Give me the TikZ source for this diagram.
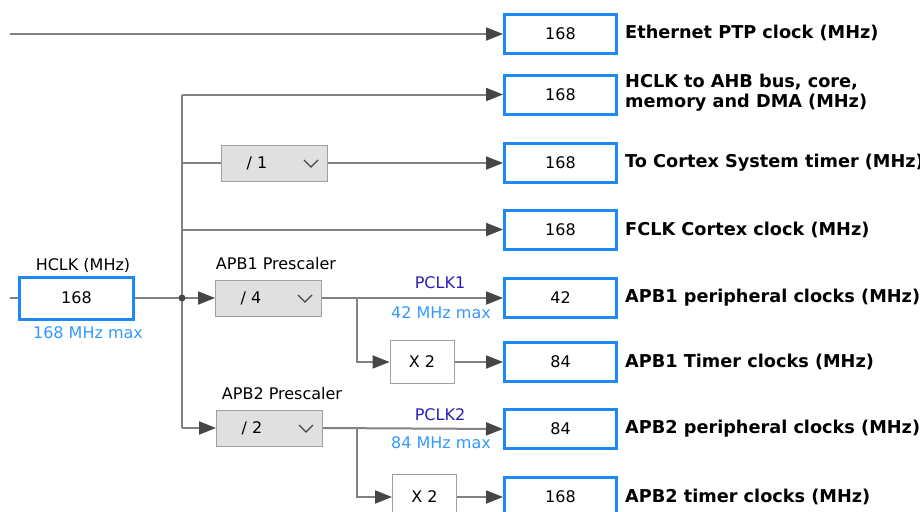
\documentclass[tikz,border=0pt]{standalone}
\usepackage{fontspec}
\setmainfont{DejaVu Sans}
\usetikzlibrary{arrows.meta}
\definecolor{bluebox}{RGB}{30,136,245}
\definecolor{linegrey}{RGB}{130,130,130}
\definecolor{tipgrey}{RGB}{70,70,70}
\definecolor{pfill}{RGB}{224,224,224}
\definecolor{pborder}{RGB}{160,160,160}
\definecolor{pclkcol}{RGB}{40,30,190}
\definecolor{maxcol}{RGB}{51,153,255}
\begin{document}
\begin{tikzpicture}[x=1pt,y=-1pt,
  outbox/.style={draw=bluebox, line width=3pt, fill=white, minimum width=112pt, minimum height=39pt, inner sep=0pt, font=\fontsize{16}{19}\selectfont},
  lbl/.style={anchor=west, inner sep=0pt, align=left, font=\bfseries\fontsize{17.7}{20}\selectfont},
  presc/.style={draw=pborder, line width=1pt, fill=pfill, minimum width=106pt, minimum height=36pt, inner sep=0pt},
  mulbox/.style={draw=pborder, line width=1pt, fill=white, minimum width=64pt, minimum height=43pt, inner sep=0pt, font=\fontsize{16}{19}\selectfont},
  txt/.style={inner sep=0pt, font=\fontsize{16}{19}\selectfont},
  conn/.style={draw=linegrey, line width=2pt},
  arr/.style={conn, -{Triangle[length=17pt,width=13pt,color=tipgrey]}},
  chev/.style={draw=tipgrey, line width=1.2pt},
  pclk/.style={inner sep=0pt, text=pclkcol, font=\fontsize{16}{19}\selectfont},
  maxlbl/.style={inner sep=0pt, text=maxcol, font=\fontsize{16}{19}\selectfont}
]
\useasboundingbox (0,0) rectangle (920,511);

% output boxes
\node[outbox] (box1) at (560.5,34) {168};
\node[outbox] (box2) at (560.5,94.5) {168};
\node[outbox] (box3) at (560.5,163) {168};
\node[outbox] (box4) at (560.5,229.5) {168};
\node[outbox] (box5) at (560.5,298) {42};
\node[outbox] (box6) at (560.5,362) {84};
\node[outbox] (box7) at (560.5,429) {84};
\node[outbox] (box8) at (560.5,497) {168};

\node[lbl] (lbl1) at (625,33) {Ethernet PTP clock (MHz)};
\node[lbl] (lbl2) at (625,93) {HCLK to AHB bus, core,\\memory and DMA (MHz)};
\node[lbl] (lbl3) at (625,163) {To Cortex System timer (MHz)};
\node[lbl] (lbl4) at (625,229.5) {FCLK Cortex clock (MHz)};
\node[lbl] (lbl5) at (625,298) {APB1 peripheral clocks (MHz)};
\node[lbl] (lbl6) at (625,362) {APB1 Timer clocks (MHz)};
\node[lbl] (lbl7) at (625,429) {APB2 peripheral clocks (MHz)};
\node[lbl] (lbl8) at (625,497) {APB2 timer clocks (MHz)};

% HCLK
\node[outbox, minimum width=114pt, minimum height=42pt] (hclk) at (76.5,298) {168};
\node[txt] (hclklbl) at (83,265) {HCLK (MHz)};
\node[maxlbl] (hclkmax) at (88,333) {168 MHz max};

% prescalers
\node[presc] (div1) at (274.5,163) {};
\node[txt] (div1t) at ([xshift=36pt]div1.west) {/ 1};
\draw[chev] ([xshift=-24pt,yshift=3pt]div1.east) -- ++(7,7) -- ++(7,-7);

\node[presc] (apb1) at (268.5,298) {};
\node[txt] (apb1t) at ([xshift=36pt]apb1.west) {/ 4};
\draw[chev] ([xshift=-24pt,yshift=3pt]apb1.east) -- ++(7,7) -- ++(7,-7);
\node[txt] (apb1lbl) at (276,264) {APB1 Prescaler};

\node[presc] (apb2) at (269.5,428) {};
\node[txt] (apb2t) at ([xshift=36pt]apb2.west) {/ 2};
\draw[chev] ([xshift=-24pt,yshift=3pt]apb2.east) -- ++(7,7) -- ++(7,-7);
\node[txt] (apb2lbl) at (282,394) {APB2 Prescaler};

% multipliers
\node[mulbox] (x21) at (422,362) {X 2};
\node[mulbox, minimum height=46pt] (x22) at (424.5,497) {X 2};

% PCLK labels
\node[pclk] (pclk1) at (440,283) {PCLK1};
\node[maxlbl] (max1) at (441,313) {42 MHz max};
\node[pclk] (pclk2) at (440,415) {PCLK2};
\node[maxlbl] (max2) at (441,443) {84 MHz max};

% coordinates
\coordinate (src) at (10,34);
\coordinate (hsrc) at (10,298);
\coordinate (dot) at (182,298);
\coordinate (b1) at (357,298);
\coordinate (b2) at (357,428);

% connectors
\draw[arr] (src) -- (box1.west);
\draw[conn] (hsrc) -- (hclk.west);
\draw[arr] (hclk.east) -- (apb1.west);
\draw[conn] (dot |- box2.west) -- (dot |- apb2.west);
\draw[arr] (dot |- box2.west) -- (box2.west);
\draw[conn] (dot |- div1.west) -- (div1.west);
\draw[arr] (div1.east) -- (box3.west);
\draw[arr] (dot |- box4.west) -- (box4.west);
\draw[arr] (dot |- apb2.west) -- (apb2.west);
\fill[tipgrey] (dot) circle (3.5pt);

\draw[arr] (apb1.east) -- (box5.west);
\draw[arr] (b1) |- (x21.west);
\draw[arr] (x21.east) -- (box6.west);

\draw[arr] (apb2.east) -- (box7.west);
\draw[arr] (b2) |- (x22.west);
\draw[arr] (x22.east) -- (box8.west);
\end{tikzpicture}
\end{document}
